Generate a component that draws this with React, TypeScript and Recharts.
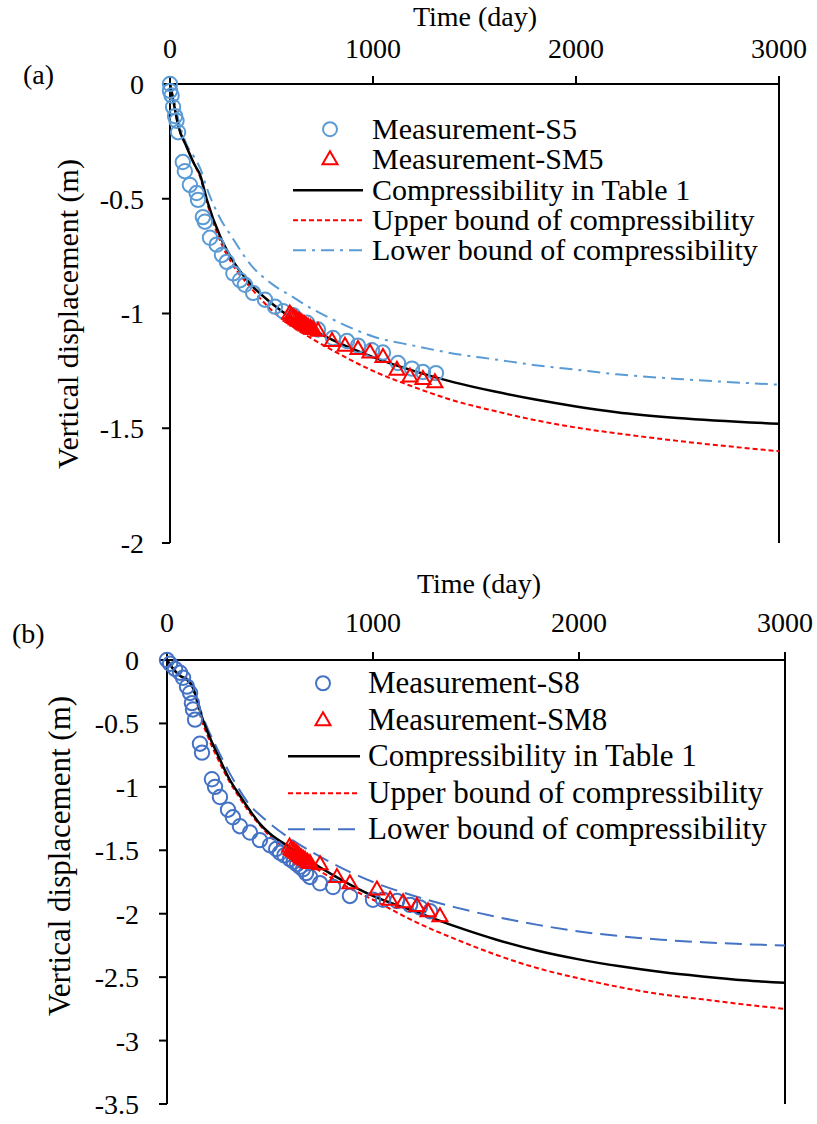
import React from "react";
import {
  ComposedChart,
  Line,
  Scatter,
  XAxis,
  YAxis,
  Legend,
  ReferenceLine,
} from "recharts";

const FONT = "Liberation Serif";

// ---- panel (a) ----
const timeA = [0, 20, 40, 80, 120, 150, 180, 250, 300, 400, 500, 600, 700, 800, 1000, 1200, 1400, 1600, 1800, 2000, 2200, 2500, 3000];
const tableA = [0, -0.09, -0.18, -0.27, -0.35, -0.4, -0.5, -0.67, -0.755, -0.875, -0.955, -1.02, -1.07, -1.115, -1.19, -1.25, -1.3, -1.34, -1.375, -1.405, -1.43, -1.455, -1.48];
const upperA = [0, -0.09, -0.18, -0.27, -0.35, -0.41, -0.51, -0.69, -0.775, -0.89, -0.985, -1.055, -1.11, -1.16, -1.25, -1.32, -1.38, -1.425, -1.465, -1.497, -1.522, -1.555, -1.6];
const lowerA = [0, -0.07, -0.15, -0.26, -0.32, -0.37, -0.45, -0.59, -0.66, -0.79, -0.87, -0.925, -0.98, -1.025, -1.1, -1.14, -1.175, -1.2, -1.225, -1.245, -1.265, -1.285, -1.31];

const s5 = [
  [0, 0], [0, -0.03], [8, -0.05], [15, -0.1], [25, -0.14], [32, -0.16], [40, -0.21], [63, -0.34],
  [73, -0.38], [98, -0.44], [131, -0.475], [138, -0.505], [162, -0.58], [172, -0.6], [197, -0.67],
  [230, -0.7], [256, -0.745], [280, -0.775], [312, -0.825], [345, -0.855], [369, -0.875], [409, -0.91],
  [468, -0.94], [517, -0.97], [557, -0.99], [606, -1.007], [675, -1.04], [729, -1.07], [803, -1.107],
  [872, -1.12], [926, -1.14], [995, -1.16], [1049, -1.17], [1123, -1.216], [1192, -1.24], [1246, -1.255],
  [1310, -1.26],
];
const sm5 = [
  [590, -1.0], [598, -1.01], [606, -1.015], [614, -1.02], [622, -1.025], [630, -1.03], [638, -1.033],
  [646, -1.037], [654, -1.042], [662, -1.047], [670, -1.052], [680, -1.057], [692, -1.062], [705, -1.067],
  [729, -1.075], [798, -1.12], [862, -1.14], [926, -1.155], [985, -1.17], [1049, -1.19], [1118, -1.245],
  [1182, -1.275], [1246, -1.285], [1305, -1.3],
];

// ---- panel (b) ----
const timeB = [0, 30, 60, 100, 120, 140, 160, 200, 250, 300, 350, 400, 450, 500, 600, 700, 800, 900, 1000, 1200, 1400, 1600, 1800, 2000, 2200, 2400, 2600, 2800, 3000];
const tableB = [0, -0.07, -0.12, -0.16, -0.2, -0.28, -0.4, -0.58, -0.76, -0.93, -1.06, -1.18, -1.29, -1.37, -1.48, -1.59, -1.69, -1.78, -1.86, -1.98, -2.1, -2.205, -2.292, -2.36, -2.415, -2.46, -2.495, -2.525, -2.545];
const upperB = [0, -0.07, -0.12, -0.16, -0.2, -0.3, -0.43, -0.61, -0.79, -0.95, -1.08, -1.2, -1.3, -1.39, -1.51, -1.62, -1.72, -1.81, -1.89, -2.06, -2.2, -2.325, -2.43, -2.51, -2.58, -2.635, -2.675, -2.715, -2.75];
const lowerB = [0, -0.07, -0.12, -0.15, -0.19, -0.27, -0.38, -0.55, -0.72, -0.88, -1.02, -1.14, -1.22, -1.29, -1.41, -1.51, -1.6, -1.68, -1.75, -1.86, -1.95, -2.025, -2.088, -2.14, -2.177, -2.205, -2.225, -2.24, -2.25];

const s8 = [
  [0, 0], [15, -0.03], [39, -0.07], [63, -0.1], [78, -0.14], [97, -0.21], [112, -0.26], [121, -0.34],
  [126, -0.39], [136, -0.47], [160, -0.66], [170, -0.73], [218, -0.94], [233, -1.0], [257, -1.08],
  [296, -1.18], [320, -1.24], [354, -1.31], [403, -1.36], [451, -1.42], [500, -1.46], [530, -1.49],
  [549, -1.52], [570, -1.54], [597, -1.57], [615, -1.59], [631, -1.61], [645, -1.63], [660, -1.65],
  [675, -1.68], [694, -1.71], [743, -1.76], [806, -1.79], [888, -1.86], [1000, -1.89], [1049, -1.89],
  [1117, -1.9], [1180, -1.93], [1228, -1.95], [1277, -1.98],
];
const sm8 = [
  [595, -1.47], [603, -1.49], [611, -1.5], [619, -1.51], [627, -1.52], [635, -1.53], [643, -1.545],
  [651, -1.555], [660, -1.565], [670, -1.575], [682, -1.59], [694, -1.6], [743, -1.61], [825, -1.71],
  [888, -1.76], [1019, -1.81], [1083, -1.89], [1146, -1.91], [1213, -1.94], [1267, -1.98], [1325, -2.02],
];

const ticksX = [0, 1000, 2000, 3000];
const ticksYA = [0, -0.5, -1, -1.5, -2];
const ticksYB = [0, -0.5, -1, -1.5, -2, -2.5, -3, -3.5];

const toCurve = (t: number[], v: number[]) => t.map((x, i) => ({ t: x, v: v[i] }));
const toPoints = (pts: number[][]) => pts.map(([t, v]) => ({ t, v }));

const RED = "#FF0000";
const BLUE_A = "#5B9BD5";
const BLUE_B = "#4472C4";

const circleShape = (color: string) => (p: any) => (
  <circle cx={p.cx} cy={p.cy} r={7.2} fill="none" stroke={color} strokeWidth={2} />
);
const triangleShape = (p: any) => (
  <path
    d={`M${p.cx},${p.cy - 8} L${p.cx + 7.5},${p.cy + 5} L${p.cx - 7.5},${p.cy + 5} Z`}
    fill="none"
    stroke={RED}
    strokeWidth={2}
  />
);

const axisTitle = (text: string, x: number, y: number, size: number, rotate = false) => () => (
  <text
    x={x}
    y={y}
    transform={rotate ? `rotate(-90 ${x} ${y})` : undefined}
    textAnchor="middle"
    fontFamily={FONT}
    fontSize={size}
    fill="#000"
  >
    {text}
  </text>
);

type LegendItem = { label: string; kind: "circle" | "triangle" | "line"; color: string; dash?: string; width?: number };

const makeLegend = (items: LegendItem[], rowH: number, iconW: number, lineFrom: number, lineTo: number, markX: number, size: number) => () => (
  <div style={{ fontFamily: FONT, fontSize: size, color: "#000", lineHeight: `${rowH}px` }}>
    {items.map((it) => (
      <div key={it.label} style={{ display: "flex", alignItems: "center", height: rowH, whiteSpace: "nowrap" }}>
        <svg width={iconW} height={rowH} style={{ flex: "none" }}>
          {it.kind === "circle" && <circle cx={markX} cy={rowH / 2} r={7} fill="none" stroke={it.color} strokeWidth={2} />}
          {it.kind === "triangle" && (
            <path
              d={`M${markX},${rowH / 2 - 8} L${markX + 7.5},${rowH / 2 + 5} L${markX - 7.5},${rowH / 2 + 5} Z`}
              fill="none"
              stroke={it.color}
              strokeWidth={2}
            />
          )}
          {it.kind === "line" && (
            <line x1={lineFrom} x2={lineTo} y1={rowH / 2} y2={rowH / 2} stroke={it.color} strokeWidth={it.width || 2} strokeDasharray={it.dash} />
          )}
        </svg>
        <span>{it.label}</span>
      </div>
    ))}
  </div>
);

const legendA: LegendItem[] = [
  { label: "Measurement-S5", kind: "circle", color: BLUE_A },
  { label: "Measurement-SM5", kind: "triangle", color: RED },
  { label: "Compressibility in Table 1", kind: "line", color: "#000", width: 2.5 },
  { label: "Upper bound of compressibility", kind: "line", color: RED, dash: "5 3" },
  { label: "Lower bound of compressibility", kind: "line", color: BLUE_A, dash: "13 6 3 6" },
];
const legendB: LegendItem[] = [
  { label: "Measurement-S8", kind: "circle", color: BLUE_B },
  { label: "Measurement-SM8", kind: "triangle", color: RED },
  { label: "Compressibility in Table 1", kind: "line", color: "#000", width: 2.5 },
  { label: "Upper bound of compressibility", kind: "line", color: RED, dash: "5 3" },
  { label: "Lower bound of compressibility", kind: "line", color: BLUE_B, dash: "17 8" },
];

const tickStyle = { fill: "#000", fontSize: 28, fontFamily: FONT };
const axisLine = { stroke: "#000", strokeWidth: 2 };
const tickLine = { stroke: "#000", strokeWidth: 2 };

export default function App() {
  return (
    <div style={{ position: "absolute", left: 0, top: 0, width: 817, height: 1124, background: "#fff" }}>
      <div style={{ position: "absolute", left: 23, top: 61, fontFamily: FONT, fontSize: 28, lineHeight: "28px" }}>(a)</div>
      <div style={{ position: "absolute", left: 12, top: 620, fontFamily: FONT, fontSize: 28, lineHeight: "28px" }}>(b)</div>

      <div style={{ position: "absolute", left: 0, top: 0 }}>
        <ComposedChart width={817} height={560} margin={{ top: 24, right: 38, bottom: 17, left: 0 }}>
          <XAxis
            dataKey="t"
            type="number"
            orientation="top"
            domain={[0, 3000]}
            ticks={ticksX}
            height={60}
            tick={tickStyle}
            tickSize={8}
            tickMargin={18}
            axisLine={axisLine}
            tickLine={tickLine}
            label={axisTitle("Time (day)", 475, 26, 28)}
          />
          <YAxis
            dataKey="v"
            type="number"
            domain={[-2, 0]}
            ticks={ticksYA}
            width={170}
            tick={tickStyle}
            tickSize={8}
            tickMargin={18}
            axisLine={axisLine}
            tickLine={tickLine}
            label={axisTitle("Vertical displacement (m)", 78, 314, 30, true)}
          />
          <ReferenceLine x={3000} stroke="#000" strokeWidth={2} />
          <Scatter name="Measurement-S5" data={toPoints(s5)} shape={circleShape(BLUE_A)} isAnimationActive={false} />
          <Scatter name="Measurement-SM5" data={toPoints(sm5)} shape={triangleShape} isAnimationActive={false} />
          <Line data={toCurve(timeA, lowerA)} dataKey="v" type="monotone" stroke={BLUE_A} strokeWidth={2} strokeDasharray="13 6 3 6" dot={false} isAnimationActive={false} />
          <Line data={toCurve(timeA, upperA)} dataKey="v" type="monotone" stroke={RED} strokeWidth={2} strokeDasharray="5 3" dot={false} isAnimationActive={false} />
          <Line data={toCurve(timeA, tableA)} dataKey="v" type="monotone" stroke="#000" strokeWidth={2.5} dot={false} isAnimationActive={false} />
          <Legend
            layout="vertical"
            align="center"
            verticalAlign="middle"
            content={makeLegend(legendA, 30.3, 84, 5, 75, 42, 30)}
            wrapperStyle={{ top: 114, left: 288, width: 500, height: "auto" }}
          />
        </ComposedChart>
      </div>

      <div style={{ position: "absolute", left: 0, top: 560 }}>
        <ComposedChart width={817} height={564} margin={{ top: 40, right: 32, bottom: 20, left: 0 }}>
          <XAxis
            dataKey="t"
            type="number"
            orientation="top"
            domain={[0, 3000]}
            ticks={ticksX}
            height={60}
            tick={tickStyle}
            tickSize={8}
            tickMargin={20}
            axisLine={axisLine}
            tickLine={tickLine}
            label={axisTitle("Time (day)", 479, 33, 28)}
          />
          <YAxis
            dataKey="v"
            type="number"
            domain={[-3.5, 0]}
            ticks={ticksYB}
            width={167}
            tick={tickStyle}
            tickSize={8}
            tickMargin={20}
            axisLine={axisLine}
            tickLine={tickLine}
            label={axisTitle("Vertical displacement (m)", 70, 296, 31, true)}
          />
          <ReferenceLine x={3000} stroke="#000" strokeWidth={2} />
          <Scatter name="Measurement-S8" data={toPoints(s8)} shape={circleShape(BLUE_B)} isAnimationActive={false} />
          <Scatter name="Measurement-SM8" data={toPoints(sm8)} shape={triangleShape} isAnimationActive={false} />
          <Line data={toCurve(timeB, lowerB)} dataKey="v" type="monotone" stroke={BLUE_B} strokeWidth={2} strokeDasharray="17 8" dot={false} isAnimationActive={false} />
          <Line data={toCurve(timeB, upperB)} dataKey="v" type="monotone" stroke={RED} strokeWidth={2} strokeDasharray="5 3" dot={false} isAnimationActive={false} />
          <Line data={toCurve(timeB, tableB)} dataKey="v" type="monotone" stroke="#000" strokeWidth={2.5} dot={false} isAnimationActive={false} />
          <Legend
            layout="vertical"
            align="center"
            verticalAlign="middle"
            content={makeLegend(legendB, 36.5, 83, 3, 75, 38, 31)}
            wrapperStyle={{ top: 105, left: 285, width: 525, height: "auto" }}
          />
        </ComposedChart>
      </div>
    </div>
  );
}
